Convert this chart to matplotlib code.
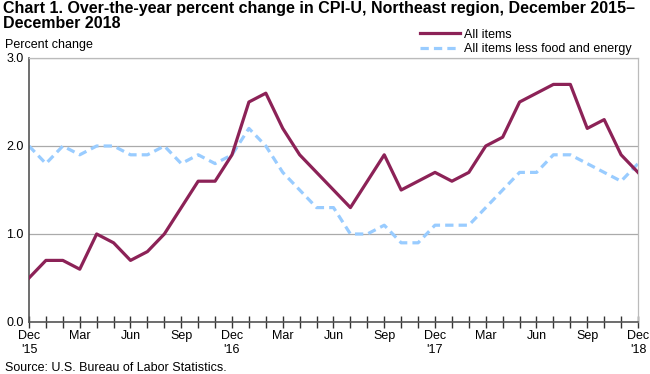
import matplotlib
matplotlib.use("Agg")
import matplotlib.pyplot as plt
import numpy as np

plt.rcParams['font.family'] = ['Liberation Sans', 'DejaVu Sans']

months = ['Dec', 'Jan', 'Feb', 'Mar', 'Apr', 'May', 'Jun', 'Jul', 'Aug', 'Sep', 'Oct', 'Nov'] * 3 + ['Dec']
all_items = [0.5, 0.7, 0.7, 0.6, 1.0, 0.9, 0.7, 0.8, 1.0, 1.3, 1.6, 1.6,
             1.9, 2.5, 2.6, 2.2, 1.9, 1.7, 1.5, 1.3, 1.6, 1.9, 1.5, 1.6,
             1.7, 1.6, 1.7, 2.0, 2.1, 2.5, 2.6, 2.7, 2.7, 2.2, 2.3, 1.9,
             1.7]
core = [2.0, 1.8, 2.0, 1.9, 2.0, 2.0, 1.9, 1.9, 2.0, 1.8, 1.9, 1.8,
        1.9, 2.2, 2.0, 1.7, 1.5, 1.3, 1.3, 1.0, 1.0, 1.1, 0.9, 0.9,
        1.1, 1.1, 1.1, 1.3, 1.5, 1.7, 1.7, 1.9, 1.9, 1.8, 1.7, 1.6,
        1.8]
tick_labels = ["Dec\n'15", 'Mar', 'Jun', 'Sep', "Dec\n'16", 'Mar', 'Jun', 'Sep',
               "Dec\n'17", 'Mar', 'Jun', 'Sep', "Dec\n'18"]
yticks = [0.0, 1.0, 2.0, 3.0]
title_lines = ['Chart 1. Over-the-year percent change in CPI-U, Northeast region, December 2015–',
               'December 2018']

x = np.arange(len(all_items))

fig = plt.figure(figsize=(6.5, 3.74), dpi=100)
ax = fig.add_axes([29/650, 1 - 322/374, (638-29)/650, (322-58)/374])

ax.plot(x, all_items, color='#8c2257', lw=2.3, label='All items', zorder=3)
ax.plot(x, core, color='#99ccff', lw=2.3, ls=(0, (2.6, 1.6)), label='All items less food and energy', zorder=2)

ax.set_xlim(0, len(x) - 1)
ax.set_ylim(0, 3.0)
ax.set_yticks(yticks)
ax.set_yticklabels([f'{v:.1f}' for v in yticks])
ax.set_xticks(x, minor=True)
ax.set_xticks(x[::3])
ax.set_xticklabels(tick_labels)
ax.tick_params(axis='x', which='both', direction='inout', length=8, width=1, color='#333333',
               labelsize=9, pad=2)
ax.tick_params(axis='y', length=0, labelsize=9, pad=4)
ax.grid(axis='y', color='#aaaaaa', lw=0.9)
ax.set_axisbelow(True)
for s in ['left', 'bottom']:
    ax.spines[s].set_color('#555555')
    ax.spines[s].set_linewidth(1.2)
for s in ['top', 'right']:
    ax.spines[s].set_color('#bbbbbb')
    ax.spines[s].set_linewidth(0.9)

fig.text(3/650, 1 - 9/374, title_lines[0], fontsize=11.5, fontweight='bold', va='center', ha='left')
fig.text(3/650, 1 - 23/374, title_lines[1], fontsize=11.5, fontweight='bold', va='center', ha='left')
fig.text(5/650, 1 - 45/374, 'Percent change', fontsize=9, va='center', ha='left')
fig.text(5/650, 1 - 368/374, 'Source: U.S. Bureau of Labor Statistics.', fontsize=9, va='center', ha='left')

leg = ax.legend(loc='lower left', bbox_to_anchor=(420/650, 1 - 55/374), bbox_transform=fig.transFigure,
                frameon=False, fontsize=9, handlelength=3.2, handletextpad=0.35, labelspacing=0.2,
                borderpad=0, borderaxespad=0)

fig.savefig('out.png', dpi=100)
